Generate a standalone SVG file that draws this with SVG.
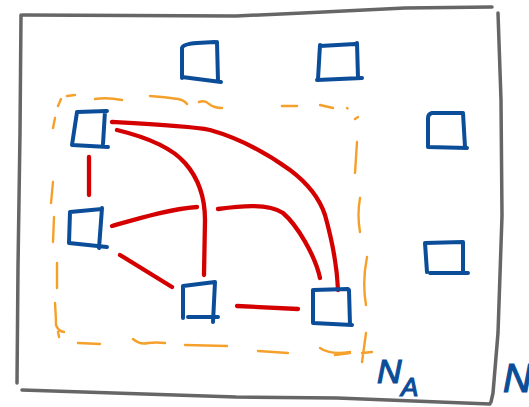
<svg xmlns="http://www.w3.org/2000/svg" width="529" height="407" viewBox="0 0 529 407">
<style>
.frame{fill:none;stroke:#666666;stroke-width:3.5;stroke-linecap:round;stroke-linejoin:round}
.region{fill:none;stroke:#f5a02a;stroke-width:2.4;stroke-linecap:round;stroke-linejoin:round}
.node{fill:none;stroke:#0b4d98;stroke-width:4;stroke-linecap:round;stroke-linejoin:round}
.edge{fill:none;stroke:#d40000;stroke-width:4.3;stroke-linecap:round;stroke-linejoin:round}
.lbl{fill:#0b4d98;font-family:"Liberation Sans",Arial,sans-serif;font-style:italic;stroke:#0b4d98;stroke-width:1.2}
</style>
<rect width="529" height="407" fill="#ffffff"/>
<g id="frame-N">
<path class="frame" d="M23,15 L236,16 L303,13 L405,8 L492,7 M498,13 L501,100 L502,216 L498,333 L493,393 L491,402 M22,390 L236,397 L337,398 L490,404 M21,15 L20,133 L18,267 L17,383"/>
</g>
<g id="region-NA">
<path class="region" d="M58,106 L61,99 M67,96 L75,95 M95,99 Q107,97 122,100 M150,96 Q165,97 178,99 Q184,100 187,104 M199,102 Q205,100 209,104 Q214,108 222,108 M282,106 L297,106 M320,105 L333,108 M347,108 L347.5,108.5 M358,117 L355,119 M357,142 L355,173 M360,198 Q357,215 360,232 M367,257 Q362,282 366,305 M366,333 L362,362 M362,353 L372,352 M335,355 L350,353 M320,348 Q330,355 350,352 M258,351 L288,353 M185,345 L227,346 M133,339 Q140,345 148,343 Q156,342 165,343 M78,343 L100,344 M58,332 L59,337 M55,303 Q56,318 56,325 Q58,331 64,332 M57,263 L57,288 M54,217 L53,242 M53,182 L51,203 M55,118 L53,128"/>
</g>
<g id="connectors">
<path class="edge" d="M89,157 L89,195"/>
<path class="edge" d="M112,122 C150,124 190,126 210,130 C235,137 265,152 290,170 C310,185 320,200 325,215 C332,240 337,265 338,290"/>
<path class="edge" d="M117,130 C150,138 172,148 185,163 C200,180 205,200 205,220 L204,275"/>
<path class="edge" d="M112,226 C140,218 170,209 197,207"/>
<path class="edge" d="M218,209 C240,206 268,203 283,213 C297,225 315,255 320,278"/>
<path class="edge" d="M120,255 L172,287"/>
<path class="edge" d="M237,306 L298,309"/>
</g>
<g id="node-top1"><path class="node" d="M182,78 L182,48 Q183,44 197,43 L215,42 M217,42 L218,81 M182,77 L221,82"/></g>
<g id="node-top2"><path class="node" d="M320,46 L355,44 M357,43 L358,78 M320,45 L318,79 M317,80 L362,78"/></g>
<g id="node-right1"><path class="node" d="M463,113 L432,113 Q428,114 428,118 L428,147 L467,148 M463,113 L465,147"/></g>
<g id="node-right2"><path class="node" d="M425,243 L463,242 M425,243 L427,272 M430,273 L468,273 M463,242 L463,272"/></g>
<g id="node-a1"><path class="node" d="M77,112 L107,111 M77,112 L72,145 L108,147 M105,111 L103,144"/></g>
<g id="node-a2"><path class="node" d="M70,212 L102,209 M70,212 L69,243 L107,247 M102,208 L99,248"/></g>
<g id="node-a3"><path class="node" d="M183,286 L215,282 M183,286 L183,318 M188,317 L218,317 M215,282 L213,322"/></g>
<g id="node-a4"><path class="node" d="M313,290 L348,289 M313,290 L313,323 L352,325 M349,290 L350,325"/></g>
<g id="labels">
<text class="lbl" x="377" y="383" font-size="34">N</text>
<text class="lbl" x="401" y="396" font-size="26">A</text>
<text class="lbl" x="503" y="392" font-size="40">N</text>
</g>
</svg>
